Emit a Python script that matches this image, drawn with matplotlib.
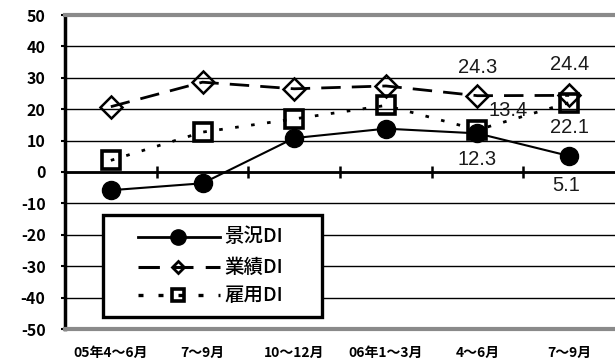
import matplotlib
matplotlib.use("Agg")
import matplotlib.pyplot as plt
from matplotlib.patches import Rectangle

plt.rcParams['font.family'] = ['Noto Sans CJK JP', 'DejaVu Sans']

# Quarterly diffusion indexes
quarters = ["05年4～6月", "7～9月", "10～12月", "06年1～3月", "4～6月", "7～9月"]
keikyo = [-5.8, -3.6, 10.8, 13.8, 12.3, 5.1]     # 景況DI
gyoseki = [20.8, 28.6, 26.5, 27.4, 24.3, 24.4]   # 業績DI
koyo = [3.7, 12.7, 16.9, 21.2, 13.4, 22.1]       # 雇用DI
series_names = ["景況DI", "業績DI", "雇用DI"]

# Value labels: (series values, index, offset in points)
value_labels = [
    (gyoseki, 4, (0, 20)),
    (gyoseki, 5, (0, 22)),
    (koyo, 4, (22, 14)),
    (koyo, 5, (0, -18)),
    (keikyo, 4, (0, -19)),
    (keikyo, 5, (-2, -21)),
]

fig = plt.figure(figsize=(6.15, 3.61), dpi=100)
ax = fig.add_axes([65 / 615, 32 / 361, 550 / 615, 314 / 361])

x = list(range(len(quarters)))

ax.plot(x, keikyo, color='black', lw=1.5, marker='o', markersize=13,
        markerfacecolor='black', markeredgecolor='black', zorder=4, clip_on=False)
ax.plot(x, gyoseki, color='black', lw=2, linestyle=(0, (7, 4)), marker='D',
        markersize=11, fillstyle='none', markeredgewidth=1.8,
        markeredgecolor='black', zorder=5, clip_on=False)
ax.plot(x, koyo, color='black', lw=2, linestyle=(0, (1.3, 4.5)), marker='s',
        markersize=13, fillstyle='none', markeredgewidth=2.6,
        markeredgecolor='black', zorder=6, clip_on=False)

for vals, i, off in value_labels:
    ax.annotate(f"{vals[i]:.1f}", (i, vals[i]), xytext=off,
                textcoords='offset points', ha='center', va='center',
                fontsize=14.5, color='#1a1a1a',
                family=['Liberation Sans', 'DejaVu Sans'], zorder=7)

ax.set_xlim(-0.5, len(quarters) - 0.5)
ax.set_ylim(-50, 50)
ax.set_yticks(range(-50, 51, 10))
ax.set_yticklabels([str(v) for v in range(-50, 51, 10)],
                   fontsize=11.5, fontweight='bold')
ax.tick_params(axis='y', length=3, width=1.5, pad=11, direction='out')
ax.set_xticks(x)
ax.set_xticklabels(quarters, fontsize=10, fontweight='bold')
ax.tick_params(axis='x', length=0, pad=12)

ax.grid(axis='y', color='black', lw=1, zorder=1)
ax.axhline(0, color='black', lw=2, zorder=2)
bounds = [i + 0.5 for i in range(len(quarters) - 1)]
ax.plot(bounds, [0] * len(bounds), linestyle='none', marker='|',
        markersize=9, markeredgewidth=1.8, color='black', zorder=2)

ax.spines['right'].set_visible(False)
ax.spines['left'].set_linewidth(2.5)
ax.spines['left'].set_color('black')
for s in ('top', 'bottom'):
    ax.spines[s].set_linewidth(3)
    ax.spines[s].set_color('#8a8a8a')

# Legend box drawn in axes coordinates
ax.add_patch(Rectangle((38 / 550, 12 / 314), 219 / 550, 102 / 314,
                       transform=ax.transAxes, facecolor='white',
                       edgecolor='black', lw=2.4, zorder=8))
rows = [0.293, 0.197, 0.108]
styles = [
    dict(ls='-', lw=2, marker='o', markersize=11, markerfacecolor='black'),
    dict(ls=(0, (7, 4)), lw=2.2, marker='D', markersize=6,
         fillstyle='none', markeredgewidth=2),
    dict(ls=(0, (1.5, 4.5)), lw=2.4, marker='s', markersize=9,
         fillstyle='none', markeredgewidth=2.6),
]
marker_keys = ('marker', 'markersize', 'markerfacecolor', 'fillstyle',
               'markeredgewidth')
for name, yv, st in zip(series_names, rows, styles):
    line_kw = {k: v for k, v in st.items() if k not in marker_keys}
    mk = {k: v for k, v in st.items() if k in marker_keys}
    ax.plot([73 / 550, 155 / 550], [yv, yv], transform=ax.transAxes,
            color='black', zorder=9, clip_on=False, **line_kw)
    ax.plot([113 / 550], [yv], transform=ax.transAxes, color='black',
            linestyle='none', zorder=10, clip_on=False,
            markeredgecolor='black', **mk)
    ax.text(159 / 550, yv, name, transform=ax.transAxes, fontsize=14,
            fontweight='medium', va='center', ha='left', zorder=10)

fig.savefig("out.png", dpi=100)
